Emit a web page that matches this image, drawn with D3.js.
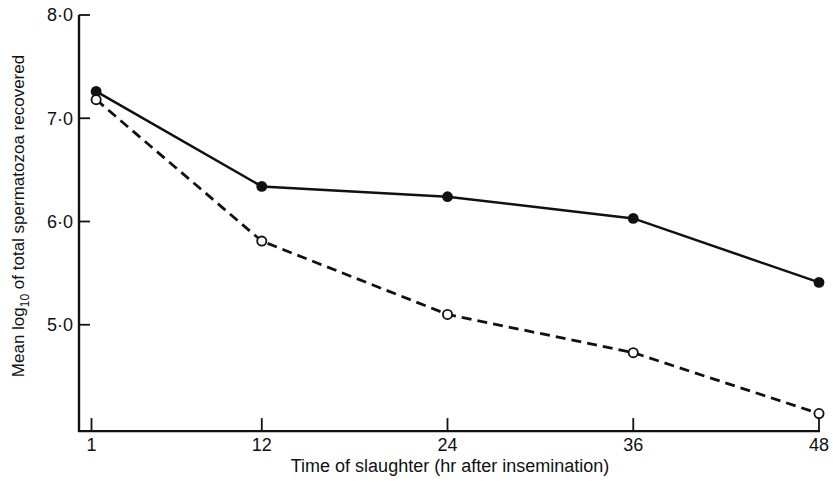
<!DOCTYPE html>
<html>
<head>
<meta charset="utf-8">
<script src="https://cdn.jsdelivr.net/npm/d3@7"></script>
<style>
  body { margin: 0; background: #fff; }
  svg { display: block; }
  text { font-family: "Liberation Sans", Arial, sans-serif; fill: #111; }
</style>
</head>
<body>
<div id="chart"></div>
<script>
// hours after insemination (first points plotted a little right of the "1" tick)
var hours = [1.3, 12, 24, 36, 48];
var filledVals = [7.26, 6.34, 6.24, 6.03, 5.41];
var openVals = [7.18, 5.81, 5.10, 4.73, 4.14];
var xTicks = [1, 12, 24, 36, 48];
var yTicks = [5, 6, 7, 8];

var W = 833, H = 483;

var svg = d3.select("#chart").append("svg")
    .attr("width", W)
    .attr("height", H);

var x = d3.scaleLinear()
    .domain([1, 48])
    .range([91.5, 819]);

var y = d3.scaleLinear()
    .domain([4, 8])
    .range([428, 15]);

var baseY = y(3.97);
var axisX = 79;

// axes lines
svg.append("line")
    .attr("x1", axisX).attr("x2", axisX)
    .attr("y1", y(8)).attr("y2", baseY + 1)
    .attr("stroke", "#111").attr("stroke-width", 2.4);

svg.append("line")
    .attr("x1", axisX - 1).attr("x2", x(48) + 1)
    .attr("y1", baseY).attr("y2", baseY)
    .attr("stroke", "#111").attr("stroke-width", 2.4);

// y ticks point inward
var yAxis = svg.append("g");
yAxis.selectAll("line")
    .data(yTicks)
    .enter().append("line")
    .attr("x1", axisX).attr("x2", axisX + 11)
    .attr("y1", function(d){ return y(d); })
    .attr("y2", function(d){ return y(d); })
    .attr("stroke", "#111").attr("stroke-width", 1.8);

yAxis.selectAll("text")
    .data(yTicks)
    .enter().append("text")
    .attr("x", axisX - 6)
    .attr("y", function(d){ return y(d); })
    .attr("dy", "0.36em")
    .attr("text-anchor", "end")
    .attr("font-size", 18)
    .text(function(d){ return d3.format(".1f")(d).replace(".", "\u00b7"); });

// x ticks point up
var xAxis = svg.append("g");
xAxis.selectAll("line")
    .data(xTicks)
    .enter().append("line")
    .attr("x1", function(d){ return x(d); })
    .attr("x2", function(d){ return x(d); })
    .attr("y1", baseY).attr("y2", baseY - 13)
    .attr("stroke", "#111").attr("stroke-width", 1.8);

xAxis.selectAll("text")
    .data(xTicks)
    .enter().append("text")
    .attr("x", function(d){ return x(d); })
    .attr("y", baseY + 20)
    .attr("text-anchor", "middle")
    .attr("font-size", 18)
    .text(function(d){ return d; });

// axis titles
svg.append("text")
    .attr("x", 450)
    .attr("y", 472)
    .attr("text-anchor", "middle")
    .attr("font-size", 18)
    .text("Time of slaughter (hr after insemination)");

var yTitle = svg.append("text")
    .attr("transform", "translate(24,216) rotate(-90)")
    .attr("text-anchor", "middle")
    .attr("font-size", 17);
yTitle.append("tspan").text("Mean log");
yTitle.append("tspan").attr("font-size", 12).attr("dy", 5).text("10");
yTitle.append("tspan").attr("dy", -5).text(" of total spermatozoa recovered");

var line = d3.line()
    .x(function(d){ return x(d[0]); })
    .y(function(d){ return y(d[1]); });

var filledPts = d3.zip(hours, filledVals);
var openPts = d3.zip(hours, openVals);

svg.append("path")
    .attr("d", line(filledPts))
    .attr("fill", "none")
    .attr("stroke", "#111")
    .attr("stroke-width", 2.5);

svg.append("path")
    .attr("d", line(openPts))
    .attr("fill", "none")
    .attr("stroke", "#111")
    .attr("stroke-width", 2.8)
    .attr("stroke-dasharray", "10,6");

svg.selectAll("circle.filled")
    .data(filledPts)
    .enter().append("circle")
    .attr("class", "filled")
    .attr("cx", function(d){ return x(d[0]); })
    .attr("cy", function(d){ return y(d[1]); })
    .attr("r", 5.4)
    .attr("fill", "#111");

svg.selectAll("circle.open")
    .data(openPts)
    .enter().append("circle")
    .attr("class", "open")
    .attr("cx", function(d){ return x(d[0]); })
    .attr("cy", function(d){ return y(d[1]); })
    .attr("r", 4.6)
    .attr("fill", "#fff")
    .attr("stroke", "#111")
    .attr("stroke-width", 1.8);
</script>
</body>
</html>
